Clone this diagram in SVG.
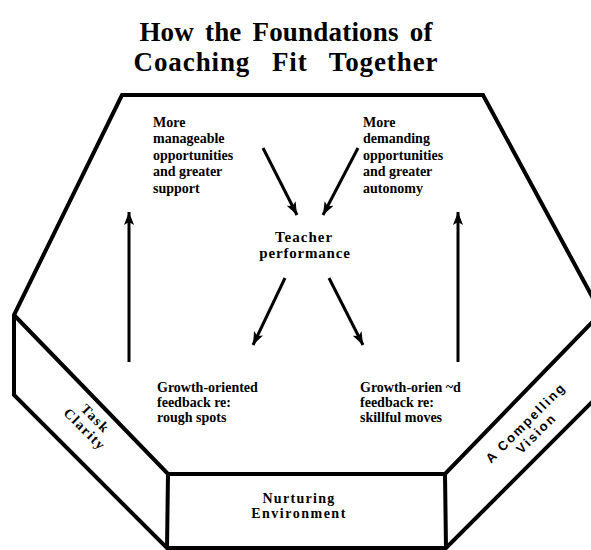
<svg xmlns="http://www.w3.org/2000/svg" width="591" height="550" viewBox="0 0 591 550">
<style>
.title{font-family:"Liberation Serif","DejaVu Serif",serif;font-weight:bold;font-size:27px;fill:#000}
.t{font-family:"Liberation Serif","DejaVu Serif",serif;font-weight:bold;font-size:14px;fill:#000}
.side{font-family:"Liberation Serif","DejaVu Serif",serif;font-weight:bold;font-size:14px;letter-spacing:1.5px;fill:#000}
.sans{font-family:"Liberation Sans","DejaVu Sans",sans-serif;font-weight:bold;font-size:13px;letter-spacing:2px;fill:#000}
.edge{fill:none;stroke:#000;stroke-width:4;stroke-linejoin:miter}
.arr{fill:none;stroke:#000;stroke-width:3;marker-end:url(#ah)}
</style>
<defs>
<marker id="ah" markerUnits="userSpaceOnUse" markerWidth="14" markerHeight="10" refX="13" refY="5" orient="auto">
<path d="M0,0 L13,5 L0,10 L3,5 z" fill="#000"/>
</marker>
</defs>
<rect width="591" height="550" fill="#fff"/>
<g id="title">
<text class="title" x="286" y="41" text-anchor="middle" style="letter-spacing:0.2px;word-spacing:4px">How the Foundations of</text>
<text class="title" x="286" y="71" text-anchor="middle" style="letter-spacing:0.9px;word-spacing:14px">Coaching Fit Together</text>
</g>
<g id="hexagon">
<path class="edge" fill="#fff" d="M122,95 L483,95 L601,313 L601,393 L446,548 L167,548 L14,395 L14,315 Z"/>
<path class="edge" d="M14,315 L168,474 L445,474 L601,313 M168,474 L167,548 M445,474 L446,548"/>
</g>
<g id="task-clarity">
<g transform="translate(90,424) rotate(45)">
<text class="side" x="0" y="-3" text-anchor="middle">Task</text>
<text class="side" x="0" y="12" text-anchor="middle">Clarity</text>
</g>
</g>
<g id="compelling-vision">
<g transform="translate(531,428) rotate(-45)">
<text class="sans" x="0" y="-3" text-anchor="middle">A Compelling</text>
<text class="sans" x="0" y="12" text-anchor="middle">Vision</text>
</g>
</g>
<g id="nurturing-environment">
<text class="side" x="299" y="503" text-anchor="middle" style="letter-spacing:1.3px">Nurturing</text>
<text class="side" x="299" y="518" text-anchor="middle">Environment</text>
</g>
<g id="manageable">
<text class="t" x="153" y="127">More</text>
<text class="t" x="153" y="143">manageable</text>
<text class="t" x="153" y="160">opportunities</text>
<text class="t" x="153" y="176">and greater</text>
<text class="t" x="153" y="193">support</text>
</g>
<g id="demanding">
<text class="t" x="363" y="127">More</text>
<text class="t" x="363" y="143">demanding</text>
<text class="t" x="363" y="160">opportunities</text>
<text class="t" x="363" y="176">and greater</text>
<text class="t" x="363" y="193">autonomy</text>
</g>
<g id="teacher-performance">
<text class="t" x="304" y="242" text-anchor="middle" style="font-size:15px;letter-spacing:1px">Teacher</text>
<text class="t" x="305" y="258" text-anchor="middle" style="font-size:15px;letter-spacing:0.8px">performance</text>
</g>
<g id="rough-spots">
<text class="t" x="157" y="392">Growth-oriented</text>
<text class="t" x="157" y="407">feedback re:</text>
<text class="t" x="157" y="422">rough spots</text>
</g>
<g id="skillful-moves">
<text class="t" x="360" y="392">Growth-orien ~d</text>
<text class="t" x="360" y="407">feedback re:</text>
<text class="t" x="360" y="422">skillful moves</text>
</g>
<g id="connectors">
<line class="arr" x1="129" y1="362" x2="129" y2="212"/>
<line class="arr" x1="458" y1="362" x2="458" y2="212"/>
<line class="arr" x1="263" y1="148" x2="297" y2="215"/>
<line class="arr" x1="358" y1="148" x2="323" y2="215"/>
<line class="arr" x1="285" y1="278" x2="253" y2="345"/>
<line class="arr" x1="329" y1="278" x2="363" y2="345"/>
</g>
</svg>
